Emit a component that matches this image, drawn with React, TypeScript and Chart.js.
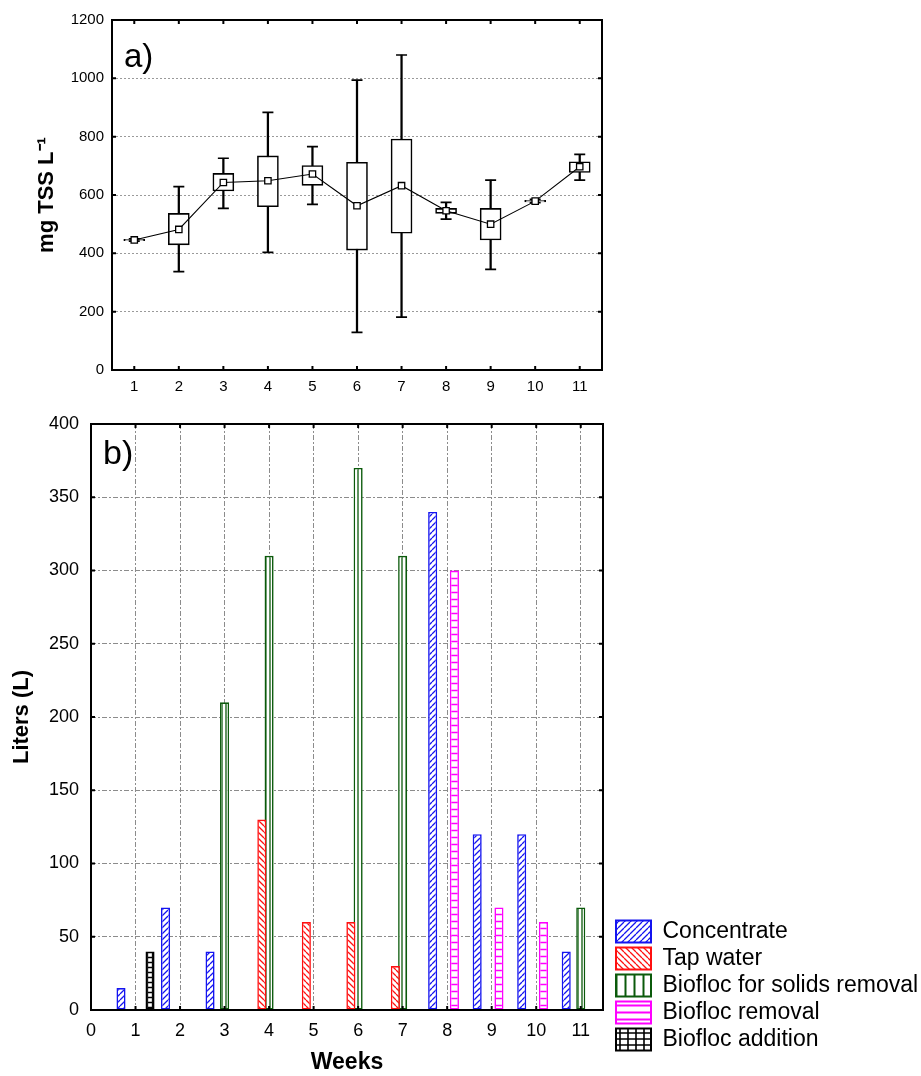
import React, { useEffect, useRef } from 'react';
import { Chart, registerables } from 'chart.js';

Chart.register(...registerables);

const FONT = "'Liberation Sans', Arial, Helvetica, sans-serif";

// ---------- a) TSS box plot ----------
const weeksA = ['1', '2', '3', '4', '5', '6', '7', '8', '9', '10', '11'];
const tssMin = [442, 337, 554, 403, 568, 129, 181, 517, 345, 574, 651];
const tssQ1 = [443, 429, 614, 560, 633, 411, 469, 537, 446, 576, 677];
const tssMean = [446, 482, 643, 649, 672, 563, 632, 546, 500, 579, 697];
const tssQ3 = [448, 537, 674, 734, 701, 712, 792, 554, 554, 582, 714];
const tssMax = [450, 629, 726, 883, 766, 994, 1080, 575, 651, 585, 739];
const yTicksA = [0, 200, 400, 600, 800, 1000, 1200];

// ---------- b) water volumes ----------
const weeksB = [1, 2, 3, 4, 5, 6, 7, 8, 9, 10, 11];
const xTicksB = [0, 1, 2, 3, 4, 5, 6, 7, 8, 9, 10, 11];
const seriesNames = ['Concentrate', 'Tap water', 'Biofloc for solids removal', 'Biofloc removal', 'Biofloc addition'];
const concentrate = [15, 70, 40, null, null, null, null, 340, 120, 120, 40];
const tapWater = [null, null, null, 130, 60, 60, 30, null, null, null, null];
const bioflocSolids = [null, null, 210, 310, null, 370, 310, null, null, null, 70];
const bioflocRemoval = [null, null, null, null, null, null, null, 300, 70, 60, null];
const bioflocAddition = [40, null, null, null, null, null, null, null, null, null, null];
const seriesColors = ['#1414f0', '#ff1010', '#0b5a0b', '#ff00ff', '#000000'];

function makePattern(kind: string, color: string, w: number, h: number, lw: number) {
  const c = document.createElement('canvas');
  c.width = w;
  c.height = h;
  const g = c.getContext('2d') as CanvasRenderingContext2D;
  g.fillStyle = '#ffffff';
  g.fillRect(0, 0, w, h);
  g.strokeStyle = color;
  g.lineWidth = lw;
  g.beginPath();
  if (kind === 'up') {
    for (let k = -1; k <= 1; k++) {
      g.moveTo(k * w, h);
      g.lineTo(k * w + w, 0);
    }
  } else if (kind === 'down') {
    for (let k = -1; k <= 1; k++) {
      g.moveTo(k * w, 0);
      g.lineTo(k * w + w, h);
    }
  } else if (kind === 'vert') {
    g.moveTo(w / 2, 0);
    g.lineTo(w / 2, h);
  } else if (kind === 'horiz') {
    g.moveTo(0, h / 2);
    g.lineTo(w, h / 2);
  } else if (kind === 'grid') {
    g.moveTo(w / 2, 0);
    g.lineTo(w / 2, h);
    g.moveTo(0, h / 2);
    g.lineTo(w, h / 2);
  }
  g.stroke();
  return g.createPattern(c, 'repeat') as CanvasPattern;
}

function makeFramePlugin(label: string, size: number, dx: number, dy: number) {
  return {
    id: 'frame',
    afterDatasetsDraw(chart: any) {
      const { ctx, chartArea } = chart;
      const { left, right, top, bottom } = chartArea;
      const xs = chart.scales.x;
      const ys = chart.scales.y;
      ctx.save();
      ctx.strokeStyle = '#000';
      ctx.lineWidth = 2;
      ctx.setLineDash([]);
      ctx.strokeRect(left, top, right - left, bottom - top);
      ctx.beginPath();
      xs.ticks.forEach((_t: any, i: number) => {
        const px = xs.getPixelForTick(i);
        if (px <= left + 1 || px >= right - 1) return;
        ctx.moveTo(px, top);
        ctx.lineTo(px, top + 4);
        ctx.moveTo(px, bottom);
        ctx.lineTo(px, bottom - 4);
      });
      ys.ticks.forEach((_t: any, i: number) => {
        const py = ys.getPixelForTick(i);
        if (py <= top + 1 || py >= bottom - 1) return;
        ctx.moveTo(left, py);
        ctx.lineTo(left + 4, py);
        ctx.moveTo(right, py);
        ctx.lineTo(right - 4, py);
      });
      ctx.stroke();
      ctx.fillStyle = '#000';
      ctx.font = `${size}px ${FONT}`;
      ctx.textAlign = 'left';
      ctx.textBaseline = 'alphabetic';
      ctx.fillText(label, left + dx, top + dy);
      ctx.restore();
    },
  };
}

const LEGEND_W = 318;
const legendPlacer = {
  id: 'legendPlacer',
  beforeLayout(chart: any) {
    const lg = chart.legend;
    if (lg && !lg.__patched) {
      const orig = lg.fit.bind(lg);
      lg.fit = () => {
        orig();
        lg.width = LEGEND_W;
      };
      lg.__patched = true;
    }
  },
  afterLayout(chart: any) {
    const lg = chart.legend;
    if (!lg) return;
    const w = lg.right - lg.left;
    lg.left = 612;
    lg.right = lg.left + w;
    const h = lg.bottom - lg.top;
    lg.bottom = chart.height - 21;
    lg.top = lg.bottom - h;
  },
};

export default function App() {
  const refA = useRef<HTMLCanvasElement>(null);
  const refB = useRef<HTMLCanvasElement>(null);

  useEffect(() => {
    const tickFontA = { size: 15, family: FONT };
    const chartA = new Chart(refA.current as HTMLCanvasElement, {
      type: 'bar',
      data: {
        labels: weeksA,
        datasets: [
          {
            type: 'line',
            label: 'Mean',
            data: tssMean,
            borderColor: '#000',
            borderWidth: 1.1,
            pointStyle: 'rect',
            pointRadius: 4.5,
            pointBackgroundColor: '#fff',
            pointBorderColor: '#000',
            pointBorderWidth: 1.3,
            tension: 0,
            order: 0,
          } as any,
          {
            type: 'line',
            label: 'Max',
            data: tssMax,
            showLine: false,
            pointStyle: 'line',
            pointRadius: 5.5,
            pointBorderColor: '#000',
            pointBorderWidth: 1.7,
            borderColor: '#000',
            order: 1,
          } as any,
          {
            type: 'line',
            label: 'Min',
            data: tssMin,
            showLine: false,
            pointStyle: 'line',
            pointRadius: 5.5,
            pointBorderColor: '#000',
            pointBorderWidth: 1.7,
            borderColor: '#000',
            order: 1,
          } as any,
          {
            type: 'bar',
            label: 'Box',
            data: tssQ1.map((q, i) => [q, tssQ3[i]]),
            backgroundColor: '#fff',
            borderColor: '#000',
            borderWidth: 1.6,
            borderSkipped: false,
            barThickness: 21,
            grouped: false,
            order: 2,
          } as any,
          {
            type: 'bar',
            label: 'Whisker',
            data: tssMin.map((m, i) => [m, tssMax[i]]),
            backgroundColor: '#000',
            borderWidth: 0,
            barThickness: 1.6,
            grouped: false,
            order: 3,
          } as any,
        ],
      },
      options: {
        responsive: false,
        animation: false,
        layout: { padding: { top: 20, right: 921 - 602, bottom: 0, left: 0 } },
        plugins: { legend: { display: false }, tooltip: { enabled: false } },
        scales: {
          x: {
            type: 'category',
            offset: true,
            grid: { display: false, drawTicks: false },
            border: { display: false },
            ticks: { font: tickFontA, color: '#000', padding: 8 },
            afterFit: (s: any) => {
              s.height = 30;
            },
          },
          y: {
            min: 0,
            max: 1200,
            afterBuildTicks: (s: any) => {
              s.ticks = yTicksA.map((v) => ({ value: v }));
            },
            ticks: { font: tickFontA, color: '#000', padding: 8, callback: (v: any) => String(v) },
            grid: {
              drawTicks: false,
              lineWidth: 1,
              color: (c: any) =>
                c.tick && (c.tick.value === 0 || c.tick.value === 1200) ? 'rgba(0,0,0,0)' : '#9a9a9a',
            },
            border: { display: false, dash: [2, 2] },
            title: {
              display: true,
              text: 'mg TSS L\u207B\u00B9',
              font: { size: 22, weight: 'bold', family: FONT },
              color: '#000',
              padding: { top: 34, bottom: 0 },
            },
            afterFit: (s: any) => {
              s.width = 112;
            },
          },
        },
      } as any,
      plugins: [makeFramePlugin('a)', 33, 12, 47)],
    });

    const barPats = [
      makePattern('up', seriesColors[0], 6, 6, 1.3),
      makePattern('down', seriesColors[1], 6, 6, 1.3),
      makePattern('vert', seriesColors[2], 4, 4, 1.3),
      makePattern('horiz', seriesColors[3], 7, 7, 1.5),
      makePattern('grid', seriesColors[4], 5, 5, 1.3),
    ];
    const legendPats = [
      makePattern('up', seriesColors[0], 6, 6, 1.3),
      makePattern('down', seriesColors[1], 6, 6, 1.3),
      makePattern('vert', seriesColors[2], 9, 9, 2),
      makePattern('horiz', seriesColors[3], 7, 7, 2),
      makePattern('grid', seriesColors[4], 8, 6, 1.6),
    ];
    const seriesData = [concentrate, tapWater, bioflocSolids, bioflocRemoval, bioflocAddition];
    const tickFontB = { size: 18, family: FONT };

    const chartB = new Chart(refB.current as HTMLCanvasElement, {
      type: 'bar',
      data: {
        labels: weeksB as any,
        datasets: seriesNames.map((name, i) => ({
          label: name,
          data: seriesData[i] as any,
          backgroundColor: barPats[i],
          borderColor: seriesColors[i],
          borderWidth: 1.6,
          borderSkipped: false,
          categoryPercentage: 0.815,
          barPercentage: 1.25,
        })),
      },
      options: {
        responsive: false,
        animation: false,
        layout: { padding: { top: 24, right: 0, bottom: 0, left: 0 } },
        plugins: {
          tooltip: { enabled: false },
          legend: {
            position: 'right',
            align: 'end',
            labels: {
              font: { size: 23, family: FONT },
              color: '#000',
              boxWidth: 35,
              boxHeight: 22,
              padding: 4,
              generateLabels: (chart: any) =>
                chart.data.datasets.map((ds: any, i: number) => ({
                  text: ds.label,
                  fillStyle: legendPats[i],
                  strokeStyle: seriesColors[i],
                  lineWidth: 2,
                  hidden: false,
                  datasetIndex: i,
                  fontColor: '#000',
                })),
            },
          },
        },
        scales: {
          x: {
            type: 'linear',
            min: 0,
            max: 11.5,
            offset: false,
            afterBuildTicks: (s: any) => {
              s.ticks = xTicksB.map((v) => ({ value: v }));
            },
            ticks: { font: tickFontB, color: '#000', padding: 10 },
            grid: { offset: false, drawTicks: false, color: '#8c8c8c', lineWidth: 1 },
            border: { display: false, dash: [5, 2, 2, 2] },
            title: {
              display: true,
              text: 'Weeks',
              font: { size: 23, weight: 'bold', family: FONT },
              color: '#000',
              padding: { top: 0, bottom: 0 },
            },
            afterFit: (s: any) => {
              s.height = 66;
            },
          },
          y: {
            min: 0,
            max: 400,
            ticks: { stepSize: 50, font: tickFontB, color: '#000', padding: 12 },
            grid: { drawTicks: false, color: '#8c8c8c', lineWidth: 1 },
            border: { display: false, dash: [5, 2, 2, 2] },
            title: {
              display: true,
              text: 'Liters (L)',
              font: { size: 22, weight: 'bold', family: FONT },
              color: '#000',
              padding: { top: 9, bottom: 0 },
            },
            afterFit: (s: any) => {
              s.width = 91;
            },
          },
        },
      } as any,
      plugins: [makeFramePlugin('b)', 34, 12, 40), legendPlacer],
    });

    return () => {
      chartA.destroy();
      chartB.destroy();
    };
  }, []);

  return (
    <div style={{ position: 'absolute', left: 0, top: 0, width: 921, height: 1076, background: '#fff' }}>
      <canvas ref={refA} width={921} height={400} style={{ position: 'absolute', left: 0, top: 0 }} />
      <canvas ref={refB} width={921} height={676} style={{ position: 'absolute', left: 0, top: 400 }} />
    </div>
  );
}
